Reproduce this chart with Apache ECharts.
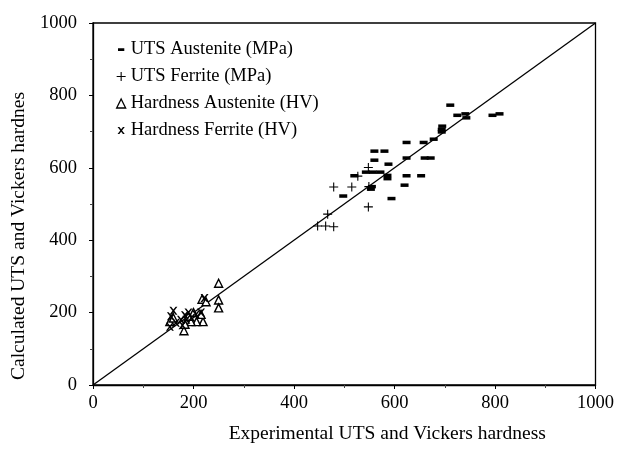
<!DOCTYPE html>
<html>
<head>
<meta charset="utf-8">
<script src="https://cdn.jsdelivr.net/npm/echarts@6/dist/echarts.min.js"></script>
<style>
  html, body { margin: 0; padding: 0; background: #fff; }
  #chart { width: 617px; height: 449px; }
</style>
</head>
<body>
<div id="chart"></div>
<script>
// Measured vs calculated values: [experimental, calculated]
var utsAustenite = [
  [711, 773], [725, 745], [741, 749], [743, 738], [795, 745], [809, 749],
  [695, 715], [694, 706], [694, 699], [678, 679], [658, 670], [624, 670],
  [560, 646], [580, 646], [560, 621], [588, 610], [624, 627], [660, 627], [672, 627],
  [543, 588], [557, 588], [572, 588], [520, 578], [586, 579], [586, 570],
  [624, 578], [653, 578], [553, 541], [620, 552], [498, 522], [594, 515], [555, 548]
];
var utsFerrite = [
  [548, 601], [527, 577], [479, 547], [515, 547], [549, 548], [548, 492],
  [479, 437], [467, 472], [447, 439], [463, 439]
];
var hardnessAustenite = [
  [250, 281], [250, 235], [250, 213], [217, 237], [225, 230], [219, 175],
  [206, 175], [195, 175], [181, 150], [153, 175], [160, 185], [200, 200],
  [190, 190], [215, 195], [183, 168]
];
var hardnessFerrite = [
  [160, 205], [183, 193], [153, 161], [165, 172], [175, 180], [190, 200],
  [196, 186], [205, 195], [215, 200], [222, 240], [155, 190], [178, 165],
  [186, 180]
];
var xTicks = [0, 200, 400, 600, 800, 1000];
var yTicks = [0, 200, 400, 600, 800, 1000];
var equalityLine = [[0, 0], [1000, 1000]];

var seriesNames = [
  'UTS Austenite (MPa)',
  'UTS Ferrite (MPa)',
  'Hardness Austenite (HV)',
  'Hardness Ferrite (HV)'
];

var SERIF = '"Liberation Serif", "DejaVu Serif", serif';
var plusPath = 'path://M0,4.4H10V5.6H0Z M4.4,0H5.6V10H4.4Z';
var crossPath = 'path://M0,0 L2.2,0 L5,3.4 L7.8,0 L10,0 L6.2,5 L10,10 L7.8,10 L5,6.6 L2.2,10 L0,10 L3.8,5 Z';
// short dash inside a 10x10 box (tiny corner specks keep the box square)
var dashIcon = 'path://M0,0H0.01V0.01H0Z M9.99,9.99H10V10H9.99Z M1.5,3.6H8.5V6.6H1.5Z';
var plusIcon = 'path://M0,4.4H10V5.6H0Z M4.4,0H5.6V10H4.4Z';
var crossIcon = 'path://M0,0H0.01V0.01H0Z M9.99,9.99H10V10H9.99Z M1,1 L3,1 L5,3.6 L7,1 L9,1 L6,5 L9,9 L7,9 L5,6.4 L3,9 L1,9 L4,5 Z';

var chart = echarts.init(document.getElementById('chart'), null, { renderer: 'canvas' });

function plainNumber(v) { return String(v); }

var axisCommon = {
  type: 'value',
  min: 0,
  max: 1000,
  interval: 200,
  axisLine: { show: true, onZero: false, lineStyle: { color: '#000', width: 1.3 } },
  axisTick: { show: true, inside: false, length: 4, lineStyle: { color: '#000' } },
  minorTick: { show: true, splitNumber: 2, length: 3, lineStyle: { color: '#444' } },
  splitLine: { show: false }
};

chart.setOption({
  animation: false,
  backgroundColor: '#fff',
  grid: {
    left: 93, right: 21, top: 23, bottom: 64,
    show: true, borderColor: '#000', borderWidth: 1.3, backgroundColor: 'transparent'
  },
  xAxis: Object.assign({}, axisCommon, {
    name: 'Experimental UTS and Vickers hardness',
    nameLocation: 'middle',
    nameGap: 39,
    nameTextStyle: { color: '#000', fontFamily: SERIF, fontSize: 19.5, padding: [0, 0, 0, 86] },
    axisLabel: {
      color: '#000', fontFamily: SERIF, fontSize: 18.5, margin: 9,
      customValues: xTicks, formatter: plainNumber
    }
  }),
  yAxis: Object.assign({}, axisCommon, {
    name: 'Calculated UTS and Vickers hardnes',
    nameLocation: 'middle',
    nameGap: 57,
    nameTextStyle: { color: '#000', fontFamily: SERIF, fontSize: 19.5, padding: [0, 64, 0, 0] },
    axisLabel: {
      color: '#000', fontFamily: SERIF, fontSize: 18.5, margin: 16,
      customValues: yTicks, formatter: plainNumber
    }
  }),
  legend: {
    orient: 'vertical',
    left: 111,
    top: 35,
    itemWidth: 9,
    itemHeight: 9,
    itemGap: 8,
    textStyle: { color: '#000', fontFamily: SERIF, fontSize: 18.5 },
    data: [
      { name: seriesNames[0], icon: dashIcon, itemStyle: { color: '#000' } },
      { name: seriesNames[1], icon: plusIcon, itemStyle: { color: '#000' } },
      { name: seriesNames[2], icon: 'triangle', itemStyle: { color: '#fff', borderColor: '#000', borderWidth: 1.3 } },
      { name: seriesNames[3], icon: crossIcon, itemStyle: { color: '#000' } }
    ]
  },
  series: [
    {
      name: 'line',
      type: 'line',
      data: equalityLine,
      symbol: 'none',
      lineStyle: { color: '#000', width: 1.3 },
      silent: true,
      z: 1
    },
    {
      name: seriesNames[0],
      type: 'scatter',
      data: utsAustenite,
      symbol: 'rect',
      symbolSize: [8, 3.5],
      itemStyle: { color: '#000', opacity: 1 },
      z: 3
    },
    {
      name: seriesNames[1],
      type: 'scatter',
      data: utsFerrite,
      symbol: plusPath,
      symbolSize: 9,
      itemStyle: { color: '#000', opacity: 1 },
      z: 3
    },
    {
      name: seriesNames[2],
      type: 'scatter',
      data: hardnessAustenite,
      symbol: 'triangle',
      symbolSize: 8,
      itemStyle: { color: '#fff', borderColor: '#000', borderWidth: 1.4, opacity: 1 },
      z: 3
    },
    {
      name: seriesNames[3],
      type: 'scatter',
      data: hardnessFerrite,
      symbol: crossPath,
      symbolSize: 8,
      itemStyle: { color: '#000', opacity: 1 },
      z: 4
    }
  ]
});
</script>
</body>
</html>
